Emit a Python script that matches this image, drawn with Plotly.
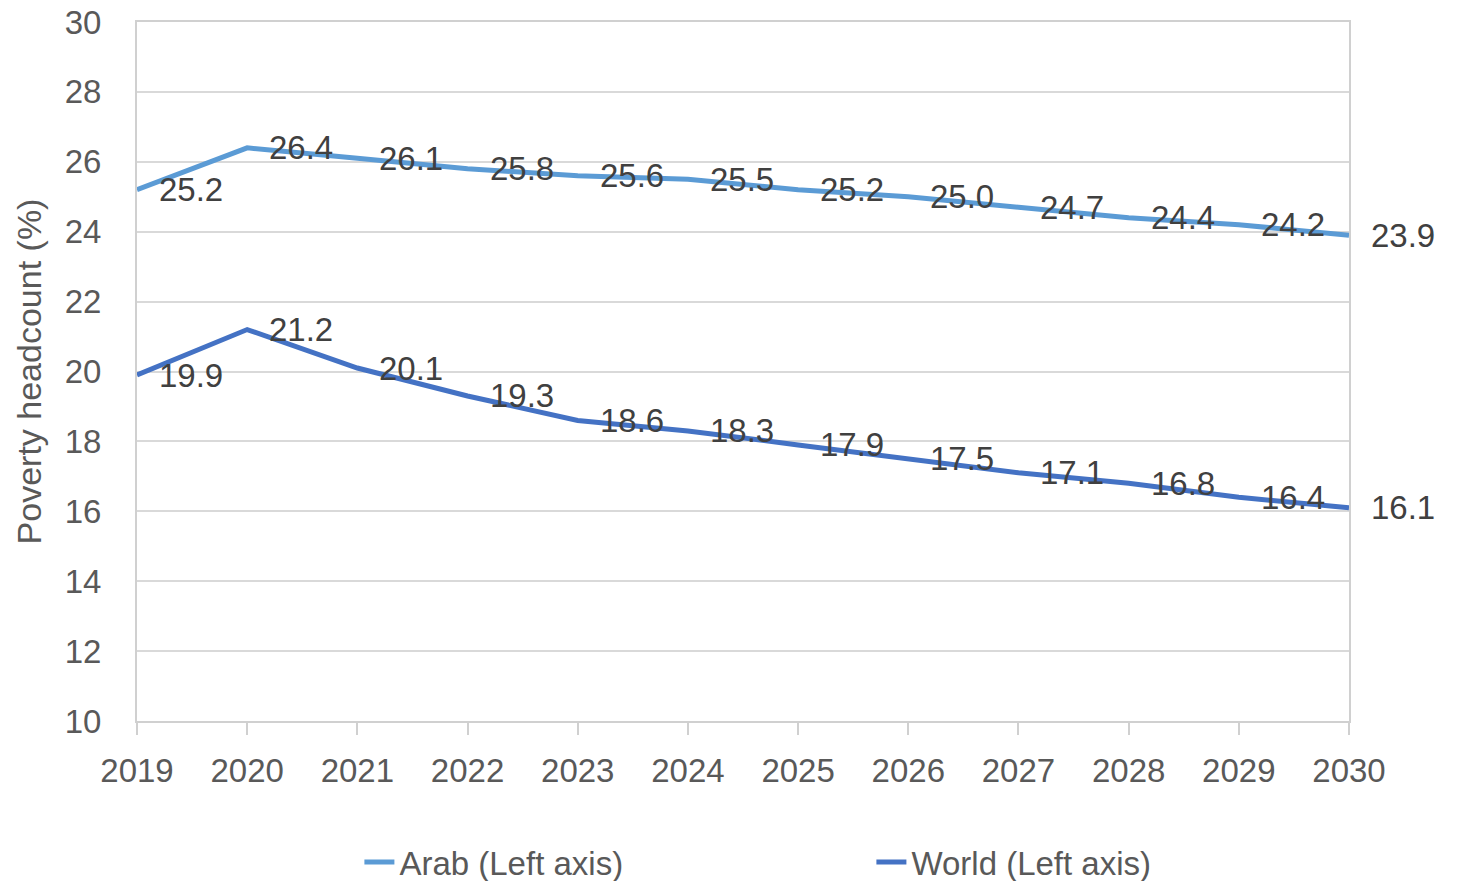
import plotly.graph_objects as go

years = [2019, 2020, 2021, 2022, 2023, 2024, 2025, 2026, 2027, 2028, 2029, 2030]
arab = [25.2, 26.4, 26.1, 25.8, 25.6, 25.5, 25.2, 25.0, 24.7, 24.4, 24.2, 23.9]
world = [19.9, 21.2, 20.1, 19.3, 18.6, 18.3, 17.9, 17.5, 17.1, 16.8, 16.4, 16.1]
series_names = ["Arab (Left axis)", "World (Left axis)"]
colors = ["#5B9BD5", "#4472C4"]

FONT = "Liberation Sans"

fig = go.Figure()
for name, vals, col in zip(series_names, [arab, world], colors):
    fig.add_trace(go.Scatter(x=years, y=vals, mode="lines", name=name,
                             line=dict(color=col, width=5), cliponaxis=False))
    for x, v in zip(years, vals):
        fig.add_annotation(x=x, y=v, text=f"{v:.1f}", showarrow=False,
                           xanchor="left", yanchor="middle", xshift=20,
                           font=dict(family=FONT, size=33, color="#404040"))

fig.update_layout(
    width=1465, height=881,
    margin=dict(l=129, r=124, t=14, b=168, autoexpand=False),
    paper_bgcolor="white", plot_bgcolor="white",
    font=dict(family=FONT, size=33, color="#595959"),
    legend=dict(orientation="h", x=0.1835, xanchor="left", y=-0.2017, yanchor="middle",
                entrywidth=467, entrywidthmode="pixels",
                font=dict(family=FONT, size=33, color="#595959")),
    showlegend=True,
)
fig.update_xaxes(range=[2019, 2030], tickmode="array", tickvals=years,
                 ticktext=[str(y) for y in years], showgrid=False, automargin=False,
                 ticks="outside", ticklen=12, tickcolor="#d0d0d0", tickwidth=2,
                 showline=True, linecolor="#d0d0d0", linewidth=2, mirror=True,
                 ticklabelstandoff=7, tickfont=dict(size=33, color="#595959"))
fig.update_yaxes(range=[10, 30], dtick=2, showgrid=True, gridcolor="#d9d9d9", gridwidth=2,
                 showline=True, linecolor="#d0d0d0", linewidth=2, mirror=True,
                 zeroline=False, ticks="", ticklabelstandoff=27, automargin=False,
                 ticklabeloverflow="allow",
                 tickfont=dict(size=33, color="#595959"),
                 title=dict(text="Poverty headcount (%)", standoff=13,
                            font=dict(size=34, color="#595959")))

fig.write_html("out.html")
